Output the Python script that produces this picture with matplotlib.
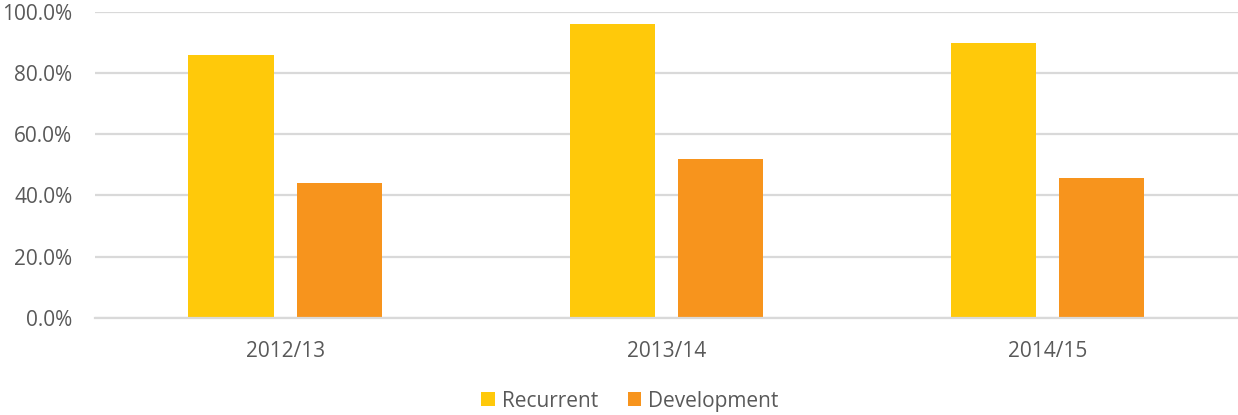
import matplotlib
matplotlib.use('Agg')
import matplotlib.pyplot as plt
import numpy as np
from matplotlib.ticker import FuncFormatter

years = ['2012/13', '2013/14', '2014/15']
recurrent = [86.0, 96.0, 89.9]
development = [44.2, 51.9, 45.7]

plt.rcParams['font.family'] = ['Open Sans', 'DejaVu Sans']
txt = '#595959'
grid = '#D9D9D9'

fig = plt.figure(figsize=(12.38, 4.15), dpi=100)
ax = fig.add_axes([94.7/1238, 1-317.7/415, 1-94.7/1238, (317.7-12)/415])

x = np.arange(len(years))
w = 0.224
off = 0.142
ax.bar(x-off, recurrent, w, color='#FFC90A', label='Recurrent', zorder=3)
ax.bar(x+off, development, w, color='#F7941D', label='Development', zorder=3)

ax.set_xlim(-0.5, 2.5)
ax.set_ylim(0, 100)
ax.set_yticks(np.arange(0, 101, 20))
ax.yaxis.set_major_formatter(FuncFormatter(lambda v, p: f'{v:.1f}%'))
ax.set_xticks(x)
ax.set_xticklabels(years)
ax.grid(axis='y', color=grid, linewidth=1.6, zorder=0)
for s in ['top', 'right', 'left']:
    ax.spines[s].set_visible(False)
ax.spines['bottom'].set_color(grid)
ax.spines['bottom'].set_linewidth(1.6)
ax.spines['bottom'].set_zorder(4)
ax.tick_params(axis='both', length=0, labelsize=15, colors=txt)
ax.tick_params(axis='y', pad=16)
ax.tick_params(axis='x', pad=17)

ax.legend(loc='center', bbox_to_anchor=(630/1238, 1-401/415), bbox_transform=fig.transFigure,
          ncol=2, frameon=False, fontsize=15, labelcolor=txt, handlelength=0.65, handleheight=0.65,
          handletextpad=0.35, columnspacing=1.4)

fig.savefig('out.png', dpi=100)
